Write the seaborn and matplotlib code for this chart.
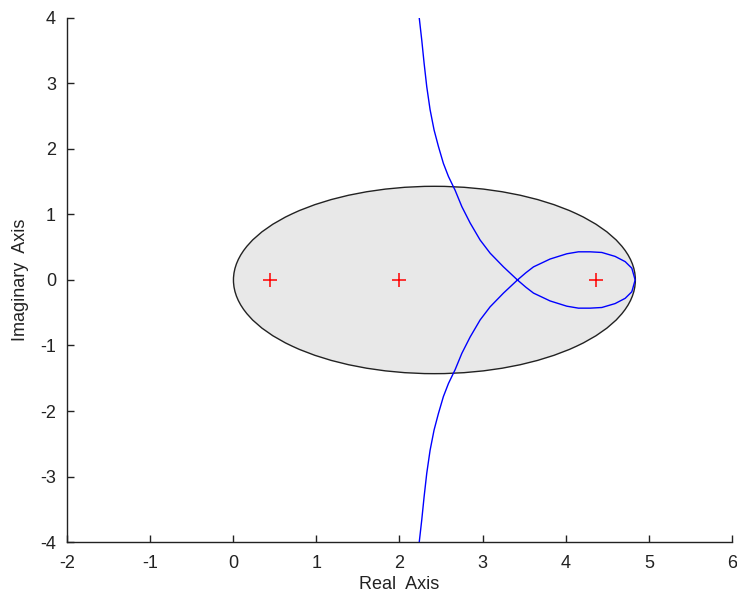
import numpy as np
import pandas as pd
import matplotlib
matplotlib.use("Agg")
import matplotlib.pyplot as plt
from matplotlib.patches import Ellipse
import seaborn as sns

# Poles (open-loop) on the real axis
pole_re = [0.44, 2.0, 4.37]
pole_im = [0.0, 0.0, 0.0]

# Root-locus branch, upper half-plane part (arm coming from +j*inf)
arm_re = [2.236, 2.268, 2.296, 2.328, 2.368, 2.416, 2.468, 2.528, 2.589, 2.669,
          2.750, 2.850, 2.970, 3.090, 3.251, 3.419]
arm_im = [4.02, 3.66, 3.31, 2.95, 2.60, 2.29, 2.04, 1.78, 1.58, 1.37,
          1.12, 0.87, 0.61, 0.41, 0.20, 0.0]

# Loop around the right pole, upper half (from crossing point to right tip)
loop_re = [3.419, 3.52, 3.612, 3.812, 4.013, 4.153, 4.293, 4.434, 4.594, 4.715, 4.795, 4.835]
loop_im = [0.0, 0.11, 0.20, 0.32, 0.40, 0.43, 0.43, 0.42, 0.36, 0.28, 0.18, 0.0]

# Stability / damping ellipse region
ell_center = (2.42, 0.0)
ell_width = 4.835
ell_height = 2.86

xticks = [-2, -1, 0, 1, 2, 3, 4, 5, 6]
yticks = [-4, -3, -2, -1, 0, 1, 2, 3, 4]

sns.set_style("ticks")
plt.rcParams['font.family'] = ['Liberation Sans', 'DejaVu Sans']
plt.rcParams['axes.unicode_minus'] = False

fig = plt.figure(figsize=(7.37, 5.98), dpi=100)
ax = fig.add_axes([0.0909, 0.0936, 0.9023, 0.8764])

ax.add_patch(Ellipse(ell_center, ell_width, ell_height, facecolor="#e8e8e8",
                     edgecolor="#222222", linewidth=1.0, zorder=1))

# Full locus: upper arm -> lower loop -> upper loop -> lower arm
seg_re = arm_re + loop_re[1:] + loop_re[::-1][1:] + arm_re[::-1][1:]
seg_im = arm_im + [-v for v in loop_im[1:]] + loop_im[::-1][1:] + [-v for v in arm_im[::-1][1:]]
df = pd.DataFrame({"re": seg_re, "im": seg_im})
sns.lineplot(data=df, x="re", y="im", sort=False, estimator=None, color="#0000ff",
             linewidth=1.0, ax=ax, zorder=3)

sns.scatterplot(x=pole_re, y=pole_im, marker="+", s=110, color="#ff0000",
                linewidth=1.1, ax=ax, zorder=4)

ax.set_xlim(-2, 6)
ax.set_ylim(-4, 4)
ax.set_xticks(xticks)
ax.set_yticks(yticks)
ax.tick_params(direction="in", length=5, width=1, colors="#222222", labelsize=13,
               labelcolor="#222222")
ax.tick_params(axis="x", pad=9)
ax.tick_params(axis="y", pad=8)
for s in ["top", "right"]:
    ax.spines[s].set_visible(False)
for s in ["left", "bottom"]:
    ax.spines[s].set_color("#222222")
    ax.spines[s].set_linewidth(1.0)
ax.set_xlabel("Real  Axis", fontsize=13, color="#222222", labelpad=3)
ax.set_ylabel("Imaginary  Axis", fontsize=13, color="#222222", labelpad=8)
ax.set_facecolor("white")

fig.savefig("out.png", dpi=100, facecolor="white")
